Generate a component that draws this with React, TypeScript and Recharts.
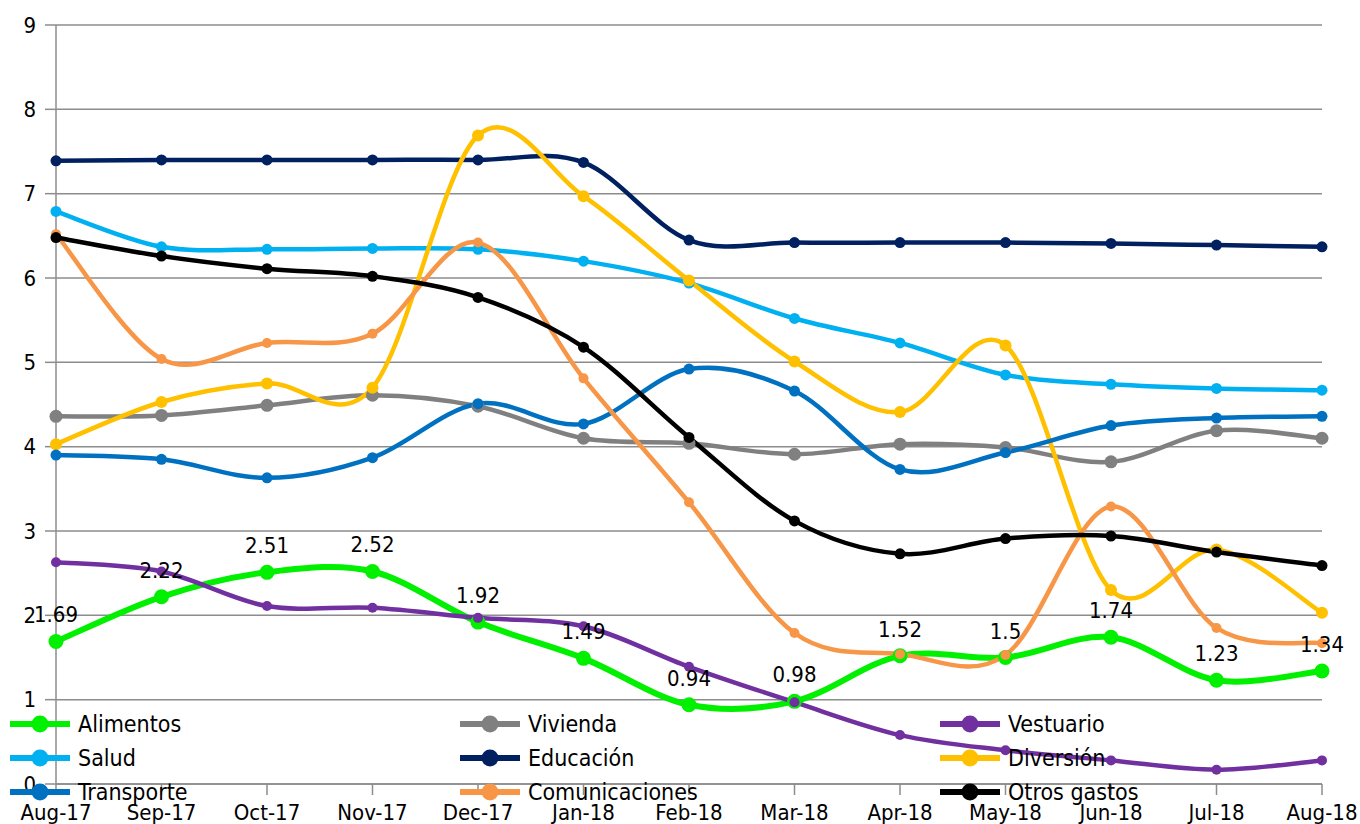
import React from "react";
import { LineChart, Line, XAxis, YAxis, CartesianGrid, Legend, LabelList } from "recharts";

const months = ["Aug-17","Sep-17","Oct-17","Nov-17","Dec-17","Jan-18","Feb-18","Mar-18","Apr-18","May-18","Jun-18","Jul-18","Aug-18"];
const alimentos = [1.69,2.22,2.51,2.52,1.92,1.49,0.94,0.98,1.52,1.5,1.74,1.23,1.34];
const vivienda = [4.36,4.37,4.49,4.61,4.48,4.1,4.04,3.91,4.03,3.99,3.82,4.19,4.1];
const vestuario = [2.63,2.52,2.11,2.09,1.97,1.87,1.39,0.97,0.58,0.4,0.28,0.17,0.28];
const salud = [6.79,6.37,6.34,6.35,6.34,6.2,5.94,5.52,5.23,4.85,4.74,4.69,4.67];
const educacion = [7.39,7.4,7.4,7.4,7.4,7.37,6.45,6.42,6.42,6.42,6.41,6.39,6.37];
const diversion = [4.03,4.53,4.75,4.7,7.69,6.97,5.97,5.01,4.41,5.2,2.3,2.78,2.03];
const transporte = [3.9,3.85,3.63,3.87,4.51,4.27,4.92,4.66,3.73,3.93,4.25,4.34,4.36];
const comunicaciones = [6.52,5.04,5.23,5.34,6.42,4.81,3.34,1.79,1.54,1.53,3.29,1.85,1.67];
const otros = [6.48,6.26,6.11,6.02,5.77,5.18,4.11,3.12,2.73,2.91,2.94,2.75,2.59];
const yTicks = [0,1,2,3,4,5,6,7,8,9];

const seriesDefs = [
  { key: "Alimentos", values: alimentos, color: "#00F000", width: 6, r: 7.5 },
  { key: "Vivienda", values: vivienda, color: "#808080", width: 4.5, r: 6.5 },
  { key: "Vestuario", values: vestuario, color: "#7030A0", width: 4.5, r: 5 },
  { key: "Salud", values: salud, color: "#00B0F0", width: 4.5, r: 5.5 },
  { key: "Educación", values: educacion, color: "#002060", width: 4.5, r: 5.5 },
  { key: "Diversión", values: diversion, color: "#FFC000", width: 4.5, r: 6 },
  { key: "Transporte", values: transporte, color: "#0070C0", width: 4.5, r: 5.5 },
  { key: "Comunicaciones", values: comunicaciones, color: "#F79646", width: 4.5, r: 5 },
  { key: "Otros gastos", values: otros, color: "#000000", width: 4.5, r: 5.5 },
];

const data = months.map((m, i) => {
  const row: any = { month: m };
  seriesDefs.forEach((s) => { row[s.key] = s.values[i]; });
  return row;
});

const FONT = "'Liberation Sans Narrow', 'DejaVu Sans Condensed', 'Open Sans', sans-serif";

// Excel-like smooth curve (Catmull-Rom through points)
function smoothCurve(context: any) {
  let pts: number[][] = [];
  return {
    areaStart() {},
    areaEnd() {},
    lineStart() { pts = []; },
    point(x: number, y: number) { pts.push([+x, +y]); },
    lineEnd() {
      const n = pts.length;
      if (!n) return;
      context.moveTo(pts[0][0], pts[0][1]);
      if (n === 1) return;
      for (let i = 0; i < n - 1; i++) {
        const p0 = pts[i - 1] || pts[i];
        const p1 = pts[i];
        const p2 = pts[i + 1];
        const p3 = pts[i + 2] || pts[i + 1];
        const c1x = p1[0] + (p2[0] - p0[0]) / 6;
        const c1y = p1[1] + (p2[1] - p0[1]) / 6;
        const c2x = p2[0] - (p3[0] - p1[0]) / 6;
        const c2y = p2[1] - (p3[1] - p1[1]) / 6;
        context.bezierCurveTo(c1x, c1y, c2x, c2y, p2[0], p2[1]);
      }
    },
  };
}

const colLeft = [10, 460, 940];

const renderLegend = () => (
  <div style={{ position: "relative", width: 1360, height: 100, fontFamily: FONT }}>
    {seriesDefs.map((s, i) => {
      const col = i % 3;
      const row = Math.floor(i / 3);
      const left = colLeft[col];
      const top = row * 34;
      return (
        <div key={s.key} style={{ position: "absolute", left, top, height: 30, display: "flex", alignItems: "center" }}>
          <svg width={62} height={30} style={{ display: "block" }}>
            <line x1={0} y1={15} x2={60} y2={15} stroke={s.color} strokeWidth={6} />
            <circle cx={30} cy={15} r={8.5} fill={s.color} />
          </svg>
          <span style={{ marginLeft: 6, fontSize: 23, color: "#000", lineHeight: "30px", whiteSpace: "nowrap" }}>{s.key}</span>
        </div>
      );
    })}
  </div>
);

export default function App() {
  return (
    <div style={{ position: "absolute", left: 0, top: 0, width: 1360, height: 824, background: "#fff" }}>
      <LineChart width={1360} height={824} data={data} margin={{ top: 25, right: 38, bottom: 0, left: 6 }}>
        <CartesianGrid vertical={false} stroke="#8c8c8c" strokeWidth={1.5} />
        <XAxis
          dataKey="month"
          interval={0}
          tickSize={11}
          tickMargin={9}
          height={40}
          axisLine={{ stroke: "#8c8c8c", strokeWidth: 1.5 }}
          tickLine={{ stroke: "#8c8c8c", strokeWidth: 1.5 }}
          tick={{ fill: "#000", fontSize: 22, fontFamily: FONT }}
        />
        <YAxis
          domain={[0, 9]}
          ticks={yTicks}
          interval={0}
          width={50}
          tickSize={11}
          tickMargin={9}
          axisLine={{ stroke: "#8c8c8c", strokeWidth: 1.5 }}
          tickLine={{ stroke: "#8c8c8c", strokeWidth: 1.5 }}
          tick={{ fill: "#000", fontSize: 22, fontFamily: FONT }}
        />
        <Legend layout="horizontal" verticalAlign="middle" align="center" content={renderLegend}
          wrapperStyle={{ position: "absolute", left: 0, top: 709, width: 1360, height: 100 }} />
        {seriesDefs.map((s) => (
          <Line
            key={s.key}
            dataKey={s.key}
            type={smoothCurve as any}
            stroke={s.color}
            strokeWidth={s.width}
            dot={{ r: s.r, fill: s.color, stroke: s.color, strokeWidth: 0 }}
            activeDot={false}
            isAnimationActive={false}
          />
        ))}
        <Line
          key="labels"
          dataKey="Alimentos"
          stroke="none"
          dot={false}
          activeDot={false}
          legendType="none"
          isAnimationActive={false}
        >
          <LabelList dataKey="Alimentos" position="top" offset={19} fill="#000" fontSize={22} fontFamily={FONT} />
        </Line>
      </LineChart>
    </div>
  );
}
